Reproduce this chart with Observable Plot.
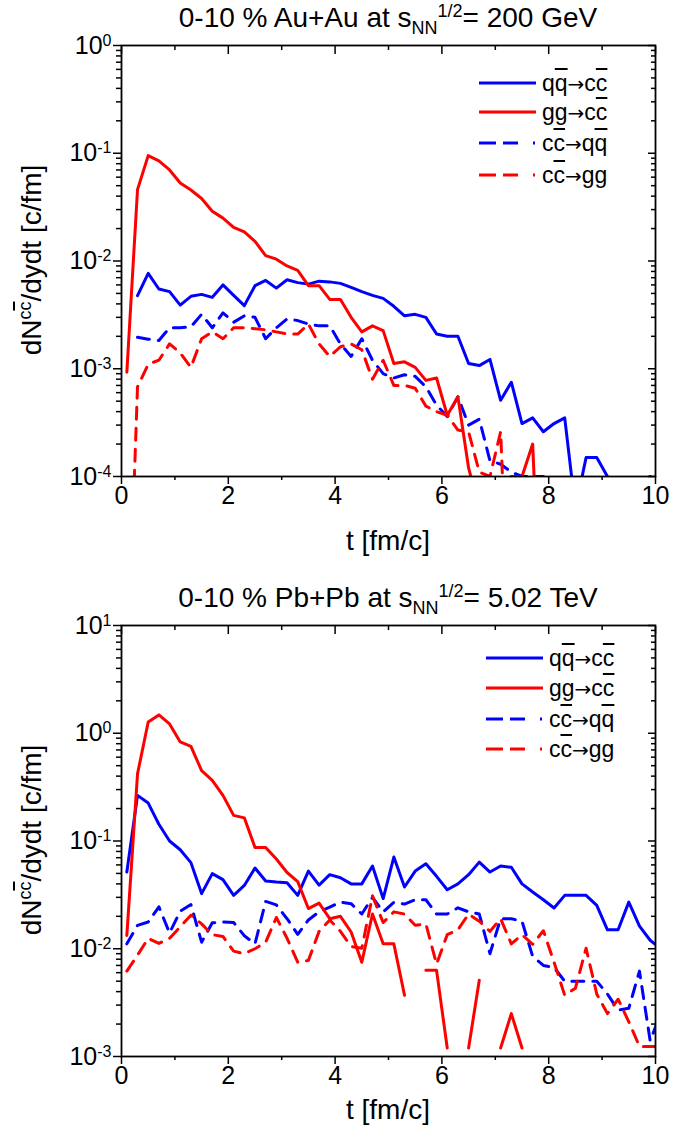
<!DOCTYPE html>
<html><head><meta charset="utf-8">
<script src="https://cdn.jsdelivr.net/npm/d3@7"></script>
<script src="https://cdn.jsdelivr.net/npm/@observablehq/plot@0.6"></script>
<style>
body{margin:0;background:#fff;font-family:"Liberation Sans",Arial,sans-serif;color:#000;}
#wrap{position:relative;width:700px;height:1139px;overflow:hidden;}
.panel{position:absolute;left:0;width:700px;}
.title{position:absolute;left:121px;width:534px;text-align:center;font-size:28px;white-space:nowrap;line-height:30px;}
.title sub,.title sup{font-size:18px;line-height:0;}
.xlab{position:absolute;left:121px;width:534px;text-align:center;font-size:28px;line-height:32px;}
.ylab{position:absolute;white-space:nowrap;font-size:28px;line-height:32px;transform:translate(-50%,-50%) rotate(-90deg);}
.ylab sup{font-size:18px;line-height:0;}
.ov{text-decoration:overline;text-decoration-thickness:1.5px;}
.arr{font-family:"DejaVu Sans",sans-serif;font-size:20px;}
.leg{position:absolute;height:28px;line-height:28px;font-size:23px;white-space:nowrap;}
.leg svg{position:absolute;left:0;top:0;}
.leg span.t{position:absolute;top:0;}
</style></head><body><div id="wrap"></div>
<script>
// time grid (fm/c)
const time = [0.1,0.3,0.5,0.7,0.9,1.1,1.3,1.5,1.7,1.9,2.1,2.3,2.5,2.7,2.9,3.1,3.3,3.5,3.7,3.9,4.1,4.3,4.5,4.7,4.9,5.1,5.3,5.5,5.7,5.9,6.1,6.3,6.5,6.7,6.9,7.1,7.3,7.5,7.7,7.9,8.1,8.3,8.5,8.7,8.9,9.1,9.3,9.5,9.7,9.9,10.1];

// Au+Au 200 GeV (0 = empty bin)
const auQQtoCC = [null,0.00477,0.00767,0.0055,0.0052,0.0039,0.0047,0.0049,0.0046,0.0060,0.0048,0.00385,0.0059,0.0066,0.0056,0.0067,0.0063,0.0061,0.0065,0.0064,0.0062,0.0057,0.0052,0.0048,0.0045,0.0038,0.0031,0.0032,0.0030,0.0021,0.0020,0.0020,0.00112,0.00107,0.00122,0.00051,0.00075,0.00031,0.00035,0.00026,0.00031,0.00035,0.00005,0.00015,0.00015,0.0001,0,0,0,0.0001,0];
const auGGtoCC = [0.00093,0.046,0.095,0.085,0.070,0.053,0.0456,0.038,0.029,0.025,0.0205,0.0186,0.0152,0.0112,0.0104,0.0090,0.0082,0.0059,0.0059,0.0044,0.0044,0.0030,0.0022,0.0025,0.00226,0.00112,0.00116,0.00103,0.00078,0.00082,0.00037,0.00055,0.00012,0.00005,0,0,0.0001,0.0001,0.0002,0,0,0,0,0,0,0,0,0,0,0,0];
const auCCtoQQ = [null,0.00196,0.00188,0.00183,0.0024,0.0024,0.00245,0.0032,0.0024,0.0033,0.0027,0.0031,0.0030,0.0019,0.0024,0.0029,0.0028,0.0026,0.0025,0.0025,0.0017,0.0013,0.0019,0.0012,0.0009,0.00082,0.00088,0.00085,0.00068,0.00046,0.00036,0.00055,0.0003,0.00034,0.00014,0.00013,0.00011,0.0001,0.0001,0.0001,0,0,0,0,0,0,0,0,0,0,0];
const auCCtoGG = [0,0.00068,0.0011,0.0012,0.0017,0.0014,0.00103,0.0019,0.0022,0.0019,0.0024,0.0024,0.00235,0.0023,0.0022,0.0021,0.0021,0.0026,0.0017,0.0013,0.0016,0.0017,0.0015,0.0008,0.0012,0.0007,0.0007,0.00066,0.00045,0.0004,0.00037,0.00027,0.00026,0.00011,0.0001,0.00026,0,0,0,0,0,0,0,0,0,0,0,0,0,0,0];

// Pb+Pb 5.02 TeV (null = empty bin)
const pbQQtoCC = [0.0515,0.265,0.225,0.143,0.10,0.083,0.063,0.0325,0.0498,0.0438,0.0313,0.0387,0.0561,0.0425,0.0416,0.041,0.0313,0.0526,0.039,0.0487,0.0456,0.040,0.040,0.0586,0.0292,0.071,0.0374,0.0526,0.0615,0.047,0.0353,0.040,0.0487,0.0637,0.0515,0.0586,0.057,0.040,0.0336,0.0285,0.0239,0.0313,0.0313,0.0313,0.0253,0.015,0.015,0.0271,0.0162,0.0120,0.010];
const pbGGtoCC = [0.0133,0.42,1.27,1.48,1.22,0.83,0.755,0.45,0.365,0.265,0.173,0.164,0.087,0.087,0.068,0.051,0.042,0.0236,0.0265,0.019,0.020,0.0143,0.0075,0.021,0.0111,0.0111,0.0037,null,0.0063,0.0063,0.0012,null,0.0012,0.0051,null,0.0012,0.0025,0.0012,null,null,null,null,null,null,null,null,null,null,null,null,null];
const pbCCtoQQ = [0.0111,0.0165,0.0177,0.0245,0.014,0.0223,0.0257,0.0115,0.0174,0.0177,0.0175,0.0132,0.0111,0.0275,0.0255,0.019,0.0136,0.0185,0.022,0.0243,0.0271,0.0262,0.021,0.030,0.022,0.027,0.026,0.0285,0.0285,0.021,0.021,0.024,0.022,0.021,0.009,0.019,0.019,0.018,0.0085,0.007,0.0067,0.005,0.005,0.005,0.005,0.0038,0.0027,0.0028,0.0062,0.0014,0.0025];
const pbCCtoGG = [0.0062,0.0087,0.0125,0.0112,0.0125,0.016,0.0205,0.017,0.0135,0.013,0.0095,0.009,0.010,0.0115,0.0195,0.0125,0.0075,0.0078,0.0145,0.0185,0.0145,0.0105,0.0101,0.031,0.0175,0.022,0.021,0.0165,0.017,0.0072,0.0135,0.015,0.021,0.018,0.0145,0.019,0.0111,0.0135,0.011,0.0147,0.0075,0.0037,0.0043,0.0101,0.0038,0.0025,0.0034,0.0021,0.00124,0.00124,0.00124];

const xMajor = [0,2,4,6,8,10];
const xMinor = [1,3,5,7,9];

const BLUE = "#0000ff", RED = "#ff0000";
const DASH = "12,9";

function rows(vals, floor) {
  return time.map((t, i) => ({t, v: vals[i] == null ? NaN : (vals[i] <= 0 ? floor : vals[i])}));
}
function minorTicks(lo, hi) {
  const out = [];
  for (let e = lo; e < hi; e++) for (let m = 2; m <= 9; m++) out.push(m * Math.pow(10, e));
  return out;
}
function majorTicks(lo, hi) {
  const out = [];
  for (let e = lo; e <= hi; e++) out.push(Math.pow(10, e));
  return out;
}

function makePanel({series, lo, hi, height, marginBottom, floor}) {
  const yMaj = majorTicks(lo, hi), yMin = minorTicks(lo, hi);
  const lw = 3;
  const marks = [
    Plot.line(rows(series.cq, floor), {x: "t", y: "v", stroke: BLUE, strokeWidth: lw, strokeDasharray: DASH, clip: true}),
    Plot.line(rows(series.cg, floor), {x: "t", y: "v", stroke: RED, strokeWidth: lw, strokeDasharray: DASH, clip: true}),
    Plot.line(rows(series.qq, floor), {x: "t", y: "v", stroke: BLUE, strokeWidth: lw, clip: true}),
    Plot.line(rows(series.gg, floor), {x: "t", y: "v", stroke: RED, strokeWidth: lw, clip: true}),
    Plot.axisX({ticks: xMajor, anchor: "bottom", tickSize: 8, tickPadding: 2, strokeWidth: 1.5, label: null, fontSize: 25, tickFormat: d => String(d)}),
    Plot.axisX({ticks: xMinor, anchor: "bottom", tickSize: 4, strokeWidth: 1.5, fill: "none", label: null}),
    Plot.axisX({ticks: xMajor, anchor: "top", tickSize: 8, dy: 8, strokeWidth: 1.5, fill: "none", label: null}),
    Plot.axisX({ticks: xMinor, anchor: "top", tickSize: 4, dy: 4, strokeWidth: 1.5, fill: "none", label: null}),
    Plot.axisY({ticks: yMaj, anchor: "left", tickSize: 8, tickPadding: 2, strokeWidth: 1.5, label: null, fontSize: 25, tickFormat: d => "10^" + Math.round(Math.log10(d))}),
    Plot.axisY({ticks: yMin, anchor: "left", tickSize: 5, strokeWidth: 1.5, fill: "none", label: null}),
    Plot.axisY({ticks: yMaj, anchor: "right", tickSize: 8, dx: -8, strokeWidth: 1.5, fill: "none", label: null}),
    Plot.axisY({ticks: yMin, anchor: "right", tickSize: 5, dx: -5, strokeWidth: 1.5, fill: "none", label: null}),
    Plot.frame({stroke: "black", strokeWidth: 1.8})
  ];
  const svg = Plot.plot({
    width: 700, height,
    marginLeft: 121, marginRight: 45, marginTop: 45, marginBottom,
    x: {domain: [0, 10]},
    y: {type: "log", domain: [Math.pow(10, lo), Math.pow(10, hi)]},
    style: {fontFamily: "'Liberation Sans', Arial, sans-serif", fontSize: "25px", color: "black", background: "white", overflow: "visible"},
    marks
  });
  svg.querySelectorAll("text").forEach(tx => {
    const s = tx.textContent;
    const m = /^10\^(-?\d+)$/.exec(s);
    if (!m) return;
    tx.textContent = "10";
    const ts = document.createElementNS("http://www.w3.org/2000/svg", "tspan");
    ts.setAttribute("dy", "-0.5em");
    ts.setAttribute("font-size", "16px");
    ts.textContent = m[1];
    tx.appendChild(ts);
  });
  return svg;
}

const wrap = document.getElementById("wrap");
function addDiv(cls, style, html) {
  const d = document.createElement("div");
  d.className = cls; d.style.cssText = style; d.innerHTML = html;
  wrap.appendChild(d); return d;
}

const p1 = addDiv("panel", "top:0px", "");
p1.appendChild(makePanel({series: {qq: auQQtoCC, gg: auGGtoCC, cq: auCCtoQQ, cg: auCCtoGG}, lo: -4, hi: 0, height: 580, marginBottom: 104, floor: 1e-6}));
const p2 = addDiv("panel", "top:580px", "");
p2.appendChild(makePanel({series: {qq: pbQQtoCC, gg: pbGGtoCC, cq: pbCCtoQQ, cg: pbCCtoGG}, lo: -3, hi: 1, height: 559, marginBottom: 83, floor: 1e-6}));

addDiv("title", "top:3px", '0-10 % Au+Au at s<sub>NN</sub><sup>1/2</sup>= 200 GeV');
addDiv("title", "top:583px", '0-10 % Pb+Pb at s<sub>NN</sub><sup>1/2</sup>= 5.02 TeV');
addDiv("xlab", "top:525px", 't [fm/c]');
addDiv("xlab", "top:1094px", 't [fm/c]');
addDiv("ylab", "left:32px;top:260px", 'dN<sup>c<span class="ov">c</span></sup>/dydt [c/fm]');
addDiv("ylab", "left:32px;top:840px", 'dN<sup>c<span class="ov">c</span></sup>/dydt [c/fm]');

const ARROW = '<span class="arr">→</span>';
const legendLabels = [
  'q<span class="ov">q</span>' + ARROW + 'c<span class="ov">c</span>',
  'gg' + ARROW + 'c<span class="ov">c</span>',
  'c<span class="ov">c</span>' + ARROW + 'q<span class="ov">q</span>',
  'c<span class="ov">c</span>' + ARROW + 'gg'
];
const legendColors = [BLUE, RED, BLUE, RED];
const legendDash = [null, null, "17,7,15,15,2,10", "17,7,15,15,2,10"];
function legend(x0, ys) {
  ys.forEach((y, i) => {
    const d = addDiv("leg", `left:${x0}px;top:${y - 14}px;width:200px`, "");
    const dash = legendDash[i] ? `stroke-dasharray="${legendDash[i]}"` : "";
    d.innerHTML = `<svg width="58" height="28"><line x1="0" y1="14" x2="57" y2="14" stroke="${legendColors[i]}" stroke-width="3" ${dash}/></svg><span class="t" style="left:63px">${legendLabels[i]}</span>`;
  });
}
legend(479, [83, 112, 143, 175]);
legend(486, [658, 688, 719, 749]);
</script></body></html>
